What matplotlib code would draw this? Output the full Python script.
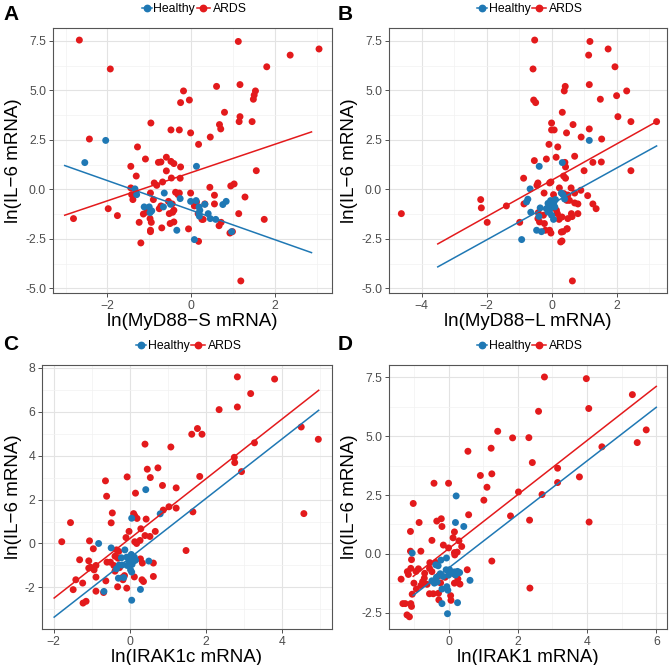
import matplotlib
matplotlib.use("Agg")
import matplotlib.pyplot as plt
from matplotlib.lines import Line2D
from matplotlib.ticker import FormatStrFormatter, MultipleLocator
import numpy as np

plt.rcParams['font.family'] = ['Liberation Sans', 'DejaVu Sans']

BLUE = "#1F78B4"
RED = "#E31A1C"
groups = ["Healthy", "ARDS"]
group_colors = [BLUE, RED]

# ---------------- Panel A: MyD88-S ----------------
a_ards = [(-2.67,7.54),(1.13,7.47),(3.06,7.09),(2.37,6.78),(-1.93,6.08),(1.81,6.19),(-0.18,4.97),(0.61,5.20),(1.17,5.29),(1.54,4.97),(1.51,4.76),(1.49,4.55),(-0.04,4.51),(-0.25,4.38),(0.80,3.89),(1.17,3.67),(1.15,3.42),(1.46,3.42),(-0.96,3.35),(0.68,3.27),(0.71,3.05),(-0.48,3.0),(-0.28,3.0),(-0.01,2.85),(0.46,2.64),(-2.43,2.54),(0.18,2.27),(-1.28,2.14),(-0.59,1.62),(-1.09,1.53),(-0.78,1.36),(-0.72,1.38),(-0.48,1.41),(-0.41,1.30),(-1.44,1.16),(-0.25,1.13),(-0.59,0.93),(1.56,0.94),(-1.31,0.67),(-0.47,0.57),(-0.26,0.56),(-0.88,0.32),(-0.82,0.20),(-0.68,0.37),(-1.44,0.07),(-0.01,-0.19),(0.45,0.10),(0.95,0.17),(1.03,0.27),(-0.97,-0.19),(-0.90,-0.52),(-1.42,-0.27),(-1.39,-0.52),(-0.37,-0.15),(-0.31,-0.27),(-0.28,-0.19),(0.56,-0.30),(1.29,-0.39),(-0.54,-0.61),(-0.45,-0.74),(0.56,-0.74),(0.33,-0.74),(-1.76,-1.33),(-1.98,-0.98),(-2.81,-1.48),(-1.14,-1.25),(-1.06,-1.15),(-1.24,-1.67),(-0.98,-1.48),(-0.95,-1.67),(-0.97,-2.07),(-0.97,-2.14),(-0.76,-0.98),(-0.72,-0.84),(-0.52,-1.23),(-0.44,-1.16),(-0.41,-1.06),(-0.50,-1.73),(-0.41,-1.65),(-0.70,-1.95),(-1.20,-2.71),(-0.06,-2.0),(0.18,-2.63),(0.17,-1.23),(0.26,-1.52),(0.29,-1.52),(0.67,-1.84),(0.72,-1.67),(0.93,-2.21),(0.99,-2.14),(1.14,-1.23),(1.75,-1.52),(1.19,-4.63),(0.08,-0.84),(0.13,-0.64)]
a_healthy = [(-2.54,1.35),(-2.04,2.47),(0.13,1.16),(-1.34,0.02),(-1.30,-0.27),(-1.12,-0.89),(-1.0,-0.89),(-0.94,-1.09),(-0.98,-1.18),(-0.64,-0.19),(-0.66,-0.89),(-0.49,-0.76),(-0.26,-0.47),(-0.34,-2.07),(-0.01,-0.61),(0.12,-0.57),(0.19,-0.89),(0.21,-1.06),(0.19,-1.23),(0.20,-1.36),(0.33,-0.76),(0.41,-1.23),(0.46,-1.48),(0.59,-1.52),(0.76,-0.77),(0.84,-0.61),(0.97,-2.14),(0.08,-2.54)]
a_fit_x = [-3.02, 2.88]
a_fit_healthy = [1.20, -3.20]
a_fit_ards = [-1.31, 2.90]

# ---------------- Panel B: MyD88-L ----------------
b_ards = [(-0.52,7.54),(1.18,7.47),(1.74,7.09),(1.14,6.78),(-0.57,6.08),(1.95,6.19),(2.31,4.97),(2.0,4.73),(1.50,4.55),(0.39,4.97),(0.42,5.20),(1.16,5.29),(-0.55,4.51),(-0.49,4.38),(0.33,3.89),(2.04,3.67),(2.44,3.42),(3.23,3.42),(0.0,3.35),(0.66,3.27),(1.16,3.05),(0.0,3.0),(0.08,3.0),(0.46,2.85),(0.91,2.64),(1.54,2.54),(-0.08,2.27),(0.19,2.14),(-0.16,1.53),(-0.53,1.45),(0.14,1.62),(0.71,1.67),(0.43,1.13),(1.27,1.36),(1.53,1.38),(0.41,1.36),(1.0,0.94),(2.44,0.94),(0.37,0.67),(0.43,0.56),(-0.86,0.56),(-0.42,0.32),(-0.45,0.20),(-0.06,0.32),(-0.02,0.37),(0.24,0.07),(0.6,0.07),(0.9,-0.05),(1.11,-0.32),(-0.23,-0.19),(0.06,-0.27),(0.38,-0.22),(0.50,-0.29),(0.71,-0.19),(0.55,-0.56),(0.43,-0.49),(1.27,-0.74),(1.37,-0.98),(0.71,-0.69),(0.81,-0.74),(0.47,-0.56),(-2.18,-0.52),(-2.16,-0.94),(-1.39,-0.84),(-1.98,-1.67),(-4.62,-1.23),(-0.85,-0.74),(-0.98,-1.67),(-0.41,-1.18),(-0.42,-1.48),(-0.37,-1.65),(-0.25,-1.31),(-0.22,-1.73),(-0.19,-2.07),(-0.06,-2.07),(-0.02,-2.21),(0.28,-2.66),(0.32,-2.61),(0.30,-2.16),(0.35,-2.14),(0.48,-1.99),(0.47,-2.01),(0.61,-1.23),(0.63,-1.38),(0.50,-1.48),(0.81,-1.23),(0.64,-4.63),(0.04,-0.84),(0.15,-1.06),(0.18,-1.23),(0.23,-1.52),(0.32,-1.40)]
b_healthy = [(1.16,2.47),(-0.38,1.16),(0.33,1.35),(-0.66,0.02),(-0.73,-0.5),(-0.77,-0.64),(-0.64,-1.16),(-0.35,-0.94),(-0.46,-2.07),(-0.31,-2.14),(-0.92,-2.54),(-0.11,-0.71),(-0.03,-0.57),(0.02,-0.76),(0.07,-0.66),(0.10,-0.89),(0.12,-0.52),(-0.11,-1.15),(0.0,-1.31),(0.06,-1.52),(-0.39,-1.37),(0.30,-0.19),(0.35,-0.27),(0.40,-0.49),(-0.11,-0.93),(-0.16,-0.98),(-0.06,-1.06)]
b_fit_x = [-3.5, 3.23]
b_fit_healthy = [-3.92, 2.19]
b_fit_ards = [-2.76, 3.42]

# ---------------- Panel C: IRAK1c ----------------
c_ards = [(2.83,7.58),(3.81,7.48),(3.18,6.82),(2.35,6.09),(2.83,6.21),(4.51,5.30),(4.96,4.74),(1.78,5.23),(1.63,4.97),(1.90,4.97),(0.40,4.52),(1.08,4.39),(3.28,4.58),(2.75,3.92),(2.76,3.68),(2.94,3.27),(0.74,3.44),(0.46,3.38),(-0.07,3.03),(0.54,3.0),(1.84,3.05),(-0.64,2.85),(0.86,2.64),(1.22,2.53),(0.15,2.29),(-0.61,2.15),(1.03,1.67),(1.22,1.61),(0.88,1.52),(1.66,1.44),(4.58,1.36),(-0.46,1.39),(-1.56,0.95),(-0.49,0.94),(0.10,1.36),(0.13,1.26),(0.19,1.14),(0.43,1.11),(0.29,0.67),(0.67,0.55),(0.53,0.32),(-1.79,0.08),(-1.06,0.12),(-0.96,-0.24),(-0.02,0.55),(-0.10,0.27),(0.13,0.08),(0.18,0.0),(0.27,0.14),(0.40,0.36),(1.48,-0.32),(-0.35,-0.29),(-0.29,-0.36),(-0.39,-0.58),(-0.31,-0.67),(-1.32,-0.74),(-1.08,-0.79),(-1.03,-1.08),(-0.94,-1.2),(-0.89,-1.0),(-1.08,-1.12),(-1.42,-1.65),(-1.49,-2.1),(-1.24,-1.8),(-0.89,-1.53),(-0.63,-1.70),(-0.51,-0.85),(-0.42,-1.0),(-0.39,-1.26),(-0.32,-1.97),(-0.08,-2.03),(-0.14,-1.46),(-1.23,-2.71),(-1.15,-2.63),(-0.89,-2.17),(-0.69,-2.23),(-0.60,-0.85),(0.33,-0.89),(0.62,-0.89),(0.62,-1.5),(0.32,-1.65),(0.36,-1.73),(0.12,-1.52),(0.28,-0.7),(-0.2,-1.55),(-0.18,-1.65),(-0.27,-1.1)]
c_healthy = [(0.42,2.45),(0.05,1.15),(-0.82,0.0),(-0.49,-0.2),(-0.68,-2.18),(0.05,-2.58),(0.28,-2.09),(0.50,-0.80),(0.80,1.35),(-0.13,-0.29),(-0.08,-0.62),(0.04,-0.50),(0.05,-0.72),(0.10,-0.80),(0.15,-0.76),(0.06,-0.95),(-0.02,-0.88),(-0.07,-1.0),(-0.20,-0.98),(-0.28,-0.98),(-0.16,-1.55),(-0.30,-1.58),(0.02,-1.20),(0.05,-1.30),(-0.35,-1.15),(0.12,-0.62),(-0.22,-0.65)]
c_fit_x = [-1.99, 4.97]
c_fit_healthy = [-3.35, 6.06]
c_fit_ards = [-2.48, 6.97]

# ---------------- Panel D: IRAK1 ----------------
d_ards = [(2.77,7.52),(3.98,7.45),(5.31,6.77),(4.05,6.18),(2.60,6.06),(1.42,5.21),(5.45,4.73),(5.71,5.27),(1.85,4.93),(2.32,4.94),(1.23,4.49),(0.56,4.36),(4.43,4.55),(2.42,3.88),(3.15,3.64),(1.25,3.40),(0.92,3.33),(3.78,3.27),(-0.42,3.0),(0.0,3.0),(1.11,2.83),(1.02,2.28),(2.02,2.63),(3.15,3.03),(2.70,2.52),(-1.02,2.14),(0.58,1.66),(1.79,1.61),(2.34,1.43),(4.06,1.35),(-0.85,1.33),(-1.10,0.95),(-0.34,1.39),(-0.21,1.49),(-0.19,1.16),(0.17,0.93),(-0.48,0.57),(0.13,0.68),(0.30,0.55),(-0.15,0.37),(-1.1,0.11),(-0.8,0.11),(0.0,0.25),(0.38,0.31),(0.17,0.05),(0.25,0.07),(0.18,-0.05),(-1.07,-0.25),(-1.09,-0.62),(1.25,-0.31),(-0.54,-0.38),(-0.37,-0.37),(-0.94,-0.75),(-0.87,-0.64),(-0.70,-1.04),(-0.75,-1.19),(-1.19,-0.76),(-1.16,-0.88),(-1.37,-1.08),(-0.69,-0.83),(-0.55,-0.62),(-0.48,-0.76),(-0.28,-0.93),(-0.23,-1.24),(-0.44,-1.70),(-0.55,-1.70),(-0.29,-1.68),(-0.28,-1.96),(0.06,-1.78),(0.07,-1.98),(-1.32,-2.12),(-1.25,-2.12),(-1.09,-2.12),(-1.07,-2.24),(-1.2,-2.6),(-1.13,-2.68),(2.35,-1.46),(0.54,-0.68),(0.18,-0.88),(0.27,-1.07),(0.17,-1.25),(0.33,-1.29),(-1.0,-1.25),(-0.8,-1.35),(-0.93,-1.5),(-0.62,-1.3),(-1.05,-1.72),(-0.1,-1.0)]
d_healthy = [(0.22,2.46),(-1.05,0.03),(0.20,1.33),(0.44,1.16),(0.62,-1.13),(-0.03,-2.55),(-0.19,-2.12),(0.26,-2.08),(-0.06,-0.18),(-0.22,-0.27),(-0.30,-0.51),(-0.37,-0.47),(-0.07,-0.68),(0.03,-0.68),(0.17,-0.77),(0.26,-0.75),(0.32,-0.8),(0.00,-0.91),(-0.16,-0.96),(-0.24,-0.85),(-0.35,-1.0),(0.10,-0.82),(-0.48,-1.15),(-0.41,-1.25),(-0.05,-1.4),(-0.02,-1.55),(-0.19,-1.5),(0.20,-0.90),(-0.33,-1.20)]
d_fit_x = [-1.02, 6.0]
d_fit_healthy = [-1.77, 6.23]
d_fit_ards = [-0.96, 7.12]

panel_letters = ["A", "B", "C", "D"]
x_labels = ["ln(MyD88\u2212S mRNA)", "ln(MyD88\u2212L mRNA)", "ln(IRAK1c mRNA)", "ln(IRAK1 mRNA)"]
y_label = "ln(IL\u22126 mRNA)"

W, H = 670, 665
fig = plt.figure(figsize=(W/100, H/100), dpi=100)

def fx(px):
    return px / W

def fy(py):
    return 1 - py / H

def rect(l, r, t, b):
    return [l/W, 1 - b/H, (r-l)/W, (b-t)/H]

panels = [
    dict(box=(53, 332, 28, 293), ards=a_ards, healthy=a_healthy, fx=a_fit_x, fh=a_fit_healthy, fa=a_fit_ards,
         xlim=(-3.30, 3.37), ylim=(-5.24, 8.15), xmaj=2, ymaj=2.5, yfmt='%.1f', letter_xy=(3, 14), leg_y=7.5),
    dict(box=(389, 667, 28, 293), ards=b_ards, healthy=b_healthy, fx=b_fit_x, fh=b_fit_healthy, fa=b_fit_ards,
         xlim=(-5.0, 3.55), ylim=(-5.24, 8.15), xmaj=2, ymaj=2.5, yfmt='%.1f', letter_xy=(338, 14), leg_y=7.5),
    dict(box=(42, 332, 365, 629), ards=c_ards, healthy=c_healthy, fx=c_fit_x, fh=c_fit_healthy, fa=c_fit_ards,
         xlim=(-2.31, 5.32), ylim=(-3.89, 8.12), xmaj=2, ymaj=2, yfmt='%d', letter_xy=(3, 345), leg_y=345),
    dict(box=(389, 667, 365, 629), ards=d_ards, healthy=d_healthy, fx=d_fit_x, fh=d_fit_healthy, fa=d_fit_ards,
         xlim=(-1.72, 6.31), ylim=(-3.20, 8.03), xmaj=2, ymaj=2.5, yfmt='%.1f', letter_xy=(338, 345), leg_y=345),
]

# legend layout offsets (pixels, relative to panel centre)
leg_items = [(-52.5, -42.5, -40.8), (2.5, 16.0, 19.0)]  # line start, line end, text start

for i, p in enumerate(panels):
    l, r, t, b = p['box']
    ax = fig.add_axes(rect(l, r, t, b))
    ax.set_xlim(*p['xlim'])
    ax.set_ylim(*p['ylim'])
    ax.xaxis.set_major_locator(MultipleLocator(p['xmaj']))
    ax.xaxis.set_minor_locator(MultipleLocator(p['xmaj']/2))
    ax.yaxis.set_major_locator(MultipleLocator(p['ymaj']))
    ax.yaxis.set_minor_locator(MultipleLocator(p['ymaj']/2))
    ax.yaxis.set_major_formatter(FormatStrFormatter(p['yfmt']))
    ax.grid(which='major', color='#E3E3E3', lw=0.8, zorder=0)
    ax.grid(which='minor', color='#F2F2F2', lw=0.5, zorder=0)
    ax.set_axisbelow(True)
    ax.tick_params(which='minor', length=0)
    ax.tick_params(which='major', length=3, width=0.6, color='#333333', labelcolor='#4D4D4D', labelsize=8.8, pad=2)
    for s in ax.spines.values():
        s.set_color('#555555'); s.set_linewidth(0.8)

    hx, hy = zip(*p['healthy'])
    rx, ry = zip(*p['ards'])
    ax.scatter(rx, ry, s=25, color=RED, edgecolors='none', zorder=3)
    ax.scatter(hx, hy, s=25, color=BLUE, edgecolors='none', zorder=3)
    ax.plot(p['fx'], p['fh'], color=BLUE, lw=1.1, zorder=4)
    ax.plot(p['fx'], p['fa'], color=RED, lw=1.1, zorder=4)

    ax.set_xlabel(x_labels[i], fontsize=13.5, labelpad=1)
    ax.set_ylabel(y_label, fontsize=13.5, labelpad=2)

    # legend (line + point keys), centred above the panel
    cx = (l + r) / 2 + 1.5
    ly = p['leg_y']
    for (x0, x1, xt), name, col in zip(leg_items, groups, group_colors):
        fig.add_artist(Line2D([fx(cx + x0), fx(cx + x1)], [fy(ly), fy(ly)], transform=fig.transFigure,
                              color=col, lw=1.1))
        fig.add_artist(Line2D([fx(cx + (x0 + x1) / 2)], [fy(ly)], transform=fig.transFigure,
                              color=col, marker='o', markersize=4.6, lw=0))
        fig.text(fx(cx + xt), fy(ly + 4.3), name, fontsize=8.8, va='baseline', ha='left', color='black')

    lx, lyy = p['letter_xy']
    fig.text(fx(lx), fy(lyy), panel_letters[i], fontsize=15, fontweight='bold', va='center', ha='left')

fig.savefig("out.png", dpi=100)
